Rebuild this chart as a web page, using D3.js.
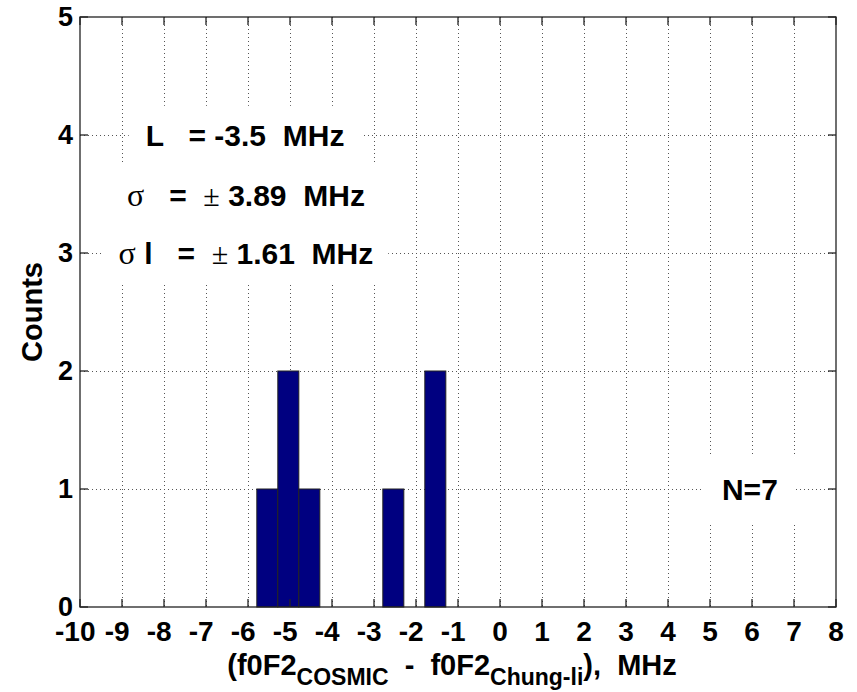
<!DOCTYPE html>
<html>
<head>
<meta charset="utf-8">
<script src="https://cdn.jsdelivr.net/npm/d3@7"></script>
<style>
  html, body { margin: 0; padding: 0; background: #fff; }
  svg { display: block; }
  text { font-family: "Liberation Sans", Arial, Helvetica, sans-serif; font-weight: bold; white-space: pre; }
</style>
</head>
<body>
<svg id="chart" width="857" height="692"></svg>
<script>
// ---- data ----
const binCenters = [-5.54, -5.04, -4.54, -2.54, -1.54];
const binCounts  = [1, 2, 1, 1, 2];
const binWidth   = 0.5;
const xTicks = d3.range(-10, 9, 1);
const yTicks = [0, 1, 2, 3, 4, 5];
const xDomain = [-10, 8];
const yDomain = [0, 5];
const statsL = "-3.5";
const statsSigma = "3.89";
const statsSigmaL = "1.61";
const nCount = 7;

// ---- layout ----
const W = 857, H = 692;
const m = { left: 80, top: 17, right: 21, bottom: 85 };
const svg = d3.select("#chart");
const x = d3.scaleLinear().domain(xDomain).range([m.left, W - m.right]);
const y = d3.scaleLinear().domain(yDomain).range([H - m.bottom, m.top]);
const x0 = x.range()[0], x1 = x.range()[1], y0 = y.range()[0], y1 = y.range()[1];

svg.append("rect").attr("width", W).attr("height", H).attr("fill", "#fff");

// grid
const grid = svg.append("g").attr("stroke", "#555").attr("stroke-width", 1).attr("stroke-dasharray", "1 3");
grid.selectAll(".gx").data(xTicks.filter(d => d > xDomain[0] && d < xDomain[1])).join("line")
  .attr("x1", d => Math.round(x(d)) + 0.5).attr("x2", d => Math.round(x(d)) + 0.5)
  .attr("y1", y1).attr("y2", y0);
grid.selectAll(".gy").data(yTicks.filter(d => d > yDomain[0] && d < yDomain[1])).join("line")
  .attr("y1", d => Math.round(y(d)) + 0.5).attr("y2", d => Math.round(y(d)) + 0.5)
  .attr("x1", x0).attr("x2", x1);

// bars
const bars = binCenters.map((c, i) => ({ c, n: binCounts[i] }));
svg.append("g").selectAll("rect").data(bars).join("rect")
  .attr("x", d => x(d.c - binWidth / 2))
  .attr("width", d => x(d.c + binWidth / 2) - x(d.c - binWidth / 2))
  .attr("y", d => y(d.n))
  .attr("height", d => y(0) - y(d.n))
  .attr("fill", "#000080")
  .attr("stroke", "#222")
  .attr("stroke-width", 1);

// annotations with white background
const ann = svg.append("g");
function addLabel(xv, yv, build, padX, padY) {
  const g = ann.append("g");
  const bg = g.append("rect").attr("fill", "#fff");
  const t = g.append("text")
    .attr("x", x(xv)).attr("y", y(yv)).attr("dy", "0.36em")
    .attr("text-anchor", "middle").attr("font-size", 30).attr("fill", "#000");
  build(t);
  const bb = t.node().getBBox();
  bg.attr("x", bb.x - padX).attr("y", bb.y - padY)
    .attr("width", bb.width + 2 * padX).attr("height", bb.height + 2 * padY);
}
const sym = "'Liberation Serif', 'DejaVu Serif', serif";
addLabel(-6.07, 4, t => {
  t.append("tspan").text("L   = " + statsL + "  MHz");
}, 17, 13);
addLabel(-6.05, 3.49, t => {
  t.append("tspan").attr("font-family", sym).attr("font-weight", "normal").attr("font-size", 32).text("σ");
  t.append("tspan").text("   =  ");
  t.append("tspan").attr("font-family", sym).attr("font-weight", "normal").text("±");
  t.append("tspan").text(" " + statsSigma + "  MHz");
}, 15, 13);
addLabel(-6.05, 3, t => {
  t.append("tspan").attr("font-family", sym).attr("font-weight", "normal").attr("font-size", 32).text("σ");
  t.append("tspan").text(" l   =  ");
  t.append("tspan").attr("font-family", sym).attr("font-weight", "normal").text("±");
  t.append("tspan").text(" " + statsSigmaL + "  MHz");
}, 15, 13);
addLabel(5.95, 1, t => {
  t.append("tspan").text("N=" + nCount);
}, 18, 18);

// axes box
const ax = svg.append("g").attr("stroke", "#222").attr("stroke-width", 1.3).attr("fill", "none");
ax.append("rect").attr("x", x0).attr("y", y1).attr("width", x1 - x0).attr("height", y0 - y1);
const tl = 8;
ax.selectAll(".tb").data(xTicks).join("line")
  .attr("x1", d => x(d)).attr("x2", d => x(d)).attr("y1", y0).attr("y2", y0 - tl);
ax.selectAll(".tt").data(xTicks).join("line")
  .attr("x1", d => x(d)).attr("x2", d => x(d)).attr("y1", y1).attr("y2", y1 + tl);
ax.selectAll(".tlft").data(yTicks).join("line")
  .attr("y1", d => y(d)).attr("y2", d => y(d)).attr("x1", x0).attr("x2", x0 + tl);
ax.selectAll(".trt").data(yTicks).join("line")
  .attr("y1", d => y(d)).attr("y2", d => y(d)).attr("x1", x1).attr("x2", x1 - tl);

// tick labels
svg.append("g").selectAll("text").data(xTicks).join("text")
  .attr("x", d => x(d)).attr("y", y0 + 34)
  .attr("dx", d => d < 0 ? "-0.17em" : 0)
  .attr("text-anchor", "middle").attr("font-size", 28).attr("fill", "#000")
  .text(d => String(d));
svg.append("g").selectAll("text").data(yTicks).join("text")
  .attr("x", x0 - 7).attr("y", d => y(d)).attr("dy", "0.34em")
  .attr("text-anchor", "end").attr("font-size", 27).attr("fill", "#000")
  .text(d => String(d));

// axis titles
const xt = svg.append("text")
  .attr("x", 452).attr("y", 675)
  .attr("text-anchor", "middle").attr("font-size", 29).attr("fill", "#000");
xt.append("tspan").text("(f0F2");
xt.append("tspan").attr("font-size", 23).attr("dy", 10).text("COSMIC");
xt.append("tspan").attr("dy", -10).text("  -  f0F2");
xt.append("tspan").attr("font-size", 23).attr("dy", 10).text("Chung-li");
xt.append("tspan").attr("dy", -10).text("),  MHz");

svg.append("text")
  .attr("transform", `translate(42, ${(y0 + y1) / 2}) rotate(-90)`)
  .attr("text-anchor", "middle").attr("font-size", 29).attr("fill", "#000")
  .text("Counts");
</script>
</body>
</html>
